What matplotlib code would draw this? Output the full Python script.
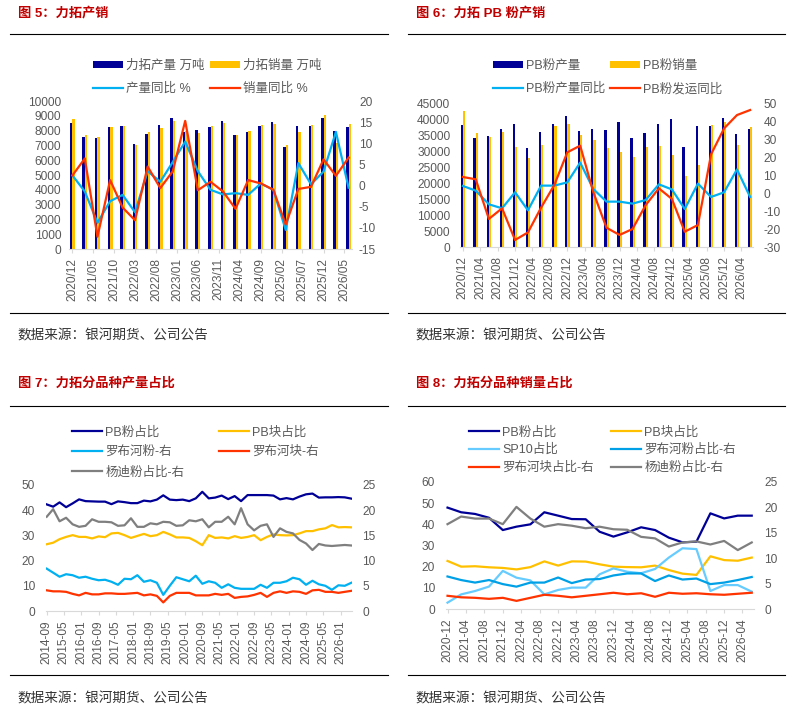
import matplotlib

matplotlib.use("Agg")

import matplotlib.dates as mdates
import matplotlib.pyplot as plt
import pandas as pd
from matplotlib.lines import Line2D

plt.rcParams["font.family"] = ["Liberation Sans", "Noto Sans CJK SC"]
plt.rcParams["axes.unicode_minus"] = False

W, H, DPI = 792, 714, 100

NAVY = "#000096"
GOLD = "#FFC000"
CYAN = "#00B0F0"
RED = "#FF3300"
GRAY = "#7F7F7F"
SKY = "#66CCFF"
TITLE_RED = "#C00000"
TICK_GRAY = "#595959"
AXIS_GRAY = "#D9D9D9"

SOURCE = "数据来源：银河期货、公司公告"

# ---- 图5 力拓产销 (quarterly) ----
dates5 = pd.date_range("2020-12-01", periods=23, freq="3MS")
ticks5 = pd.date_range("2020-12-01", periods=14, freq="5MS")
prod5 = [8500, 7550, 7500, 8250, 8330, 7100, 7800, 8400, 8850, 7900, 8050, 8270,
         8650, 7700, 7880, 8310, 8560, 6900, 8290, 8330, 8870, 8000, 8270]
sales5 = [8800, 7700, 7570, 8250, 8330, 7050, 7900, 8200, 8670, 7950, 7840, 8310,
          8510, 7700, 7970, 8380, 8450, 7000, 7900, 8360, 9050, 7150, 8450]
prod_yoy5 = [2.4, -1.4, -8.8, -3.7, -2.2, -6.3, 3.4, 0.9, 5.6, 10.4, 3.4, -1.0,
             -2.1, -1.8, -2.2, 0.5, -1.0, -10.5, 5.3, 0.3, 3.3, 12.7, -0.5]
sales_yoy5 = [2.4, 6.4, -12.1, 1.3, -5.2, -8.2, 4.5, -0.6, 3.4, 15.3, -1.1, 0.9,
              -1.4, -5.5, 1.3, 0.5, -1.0, -9.2, -0.8, -0.3, 6.2, 2.3, 6.6]

# ---- 图6 力拓 PB 粉产销 ----
dates6 = pd.date_range("2020-12-01", periods=23, freq="3MS")
ticks6 = pd.date_range("2020-12-01", periods=17, freq="4MS")
prod6 = [38100, 34200, 34600, 36900, 38400, 30800, 36000, 38400, 40900, 36300, 36900, 36600,
         39100, 34200, 35700, 38400, 40000, 31100, 37700, 37700, 40300, 35300, 36900]
sales6 = [42600, 35500, 34400, 36000, 31400, 27700, 31900, 37900, 38500, 35000, 33400, 30800,
          29600, 28200, 31100, 31600, 28800, 22200, 25600, 38100, 39200, 31900, 37500]
prod_yoy6 = [3.9, 1.3, -6.3, -8.5, 0.4, -9.6, 4.1, 4.1, 5.9, 16.9, 2.2, -4.8,
             -4.8, -5.9, -3.9, 4.8, 2.0, -8.9, 5.2, -2.2, 0.4, 13.1, -2.2]
ship_yoy6 = [8.9, 7.6, -14.4, -8.5, -26.1, -21.9, -8.1, 4.4, 22.6, 26.3, 0.4, -19.3,
             -23.3, -20.0, -6.7, 2.6, -3.3, -21.5, -17.8, 21.5, 35.9, 43.3, 46.1]

# ---- 图7 力拓分品种产量占比 ----
dates7 = pd.date_range("2014-09-01", periods=48, freq="3MS")
ticks7 = pd.date_range("2014-09-01", periods=18, freq="8MS")
pb_fines7 = [42.3, 41.4, 43.1, 41.2, 42.7, 44.3, 43.6, 43.5, 43.4, 43.4, 42.4, 43.5,
             43.2, 42.8, 42.8, 43.8, 43.5, 44.2, 45.9, 44.2, 44.0, 44.2, 43.6, 44.7,
             47.3, 44.7, 45.0, 45.8, 44.4, 45.6, 43.6, 46.0, 46.0, 46.0, 46.0, 45.8,
             44.3, 44.8, 44.3, 45.4, 46.3, 46.6, 45.0, 45.1, 45.1, 45.2, 45.1, 44.6]
pb_lump7 = [26.5, 27.1, 28.5, 29.4, 30.1, 29.4, 29.4, 28.8, 29.6, 29.3, 30.8, 31.0,
            30.1, 29.0, 29.8, 30.6, 29.7, 30.1, 31.4, 30.4, 29.2, 29.2, 29.0, 27.7,
            26.1, 30.1, 29.0, 29.2, 28.8, 29.7, 29.0, 29.4, 30.1, 28.1, 29.4, 30.4,
            30.1, 30.0, 30.1, 30.8, 31.7, 31.7, 32.4, 32.8, 34.1, 33.2, 33.3, 33.2]
robe_fines7 = [8.4, 7.6, 6.8, 7.3, 7.1, 6.6, 6.8, 6.4, 6.1, 6.2, 5.8, 5.2,
               6.4, 6.3, 7.1, 5.8, 6.1, 5.6, 3.2, 5.0, 6.7, 6.3, 5.9, 7.0,
               5.4, 5.9, 5.6, 4.6, 5.3, 4.6, 4.4, 4.4, 4.4, 5.2, 4.6, 5.6,
               5.6, 5.9, 6.6, 6.3, 5.2, 6.0, 5.3, 5.0, 4.2, 5.1, 5.0, 5.6]
robe_lump7 = [4.1, 3.9, 3.9, 3.8, 3.4, 3.1, 3.6, 3.3, 3.3, 3.5, 3.5, 3.4,
              3.4, 3.5, 3.6, 3.1, 3.3, 3.0, 1.7, 3.0, 3.6, 3.6, 3.6, 3.1,
              3.1, 3.1, 3.4, 3.2, 3.4, 2.6, 2.8, 2.9, 3.2, 3.6, 2.8, 3.6,
              3.9, 3.6, 3.9, 3.8, 3.4, 4.1, 4.2, 3.8, 3.8, 3.6, 3.8, 4.0]
yandi7 = [18.7, 20.2, 17.8, 18.5, 17.2, 16.7, 16.9, 18.2, 17.7, 17.7, 17.6, 16.9,
          17.0, 18.4, 16.7, 16.7, 17.4, 17.2, 17.7, 17.6, 16.9, 17.0, 18.0, 17.8,
          18.2, 16.6, 17.7, 17.7, 18.7, 17.2, 20.4, 17.2, 16.0, 16.9, 17.2, 14.7,
          16.4, 15.7, 15.4, 14.1, 13.4, 12.1, 13.3, 13.0, 12.9, 13.0, 13.1, 13.0]

# ---- 图8 力拓分品种销量占比 ----
dates8 = pd.date_range("2020-12-01", periods=23, freq="3MS")
ticks8 = pd.date_range("2020-12-01", periods=17, freq="4MS")
pb_fines8 = [47.9, 45.7, 44.9, 43.1, 37.3, 38.9, 40.0, 45.7, 44.1, 42.5, 42.4, 36.5,
             34.2, 36.2, 38.6, 37.3, 33.7, 31.5, 31.8, 45.2, 42.8, 44.1, 44.1]
pb_lump8 = [22.7, 20.0, 20.2, 19.7, 19.4, 18.7, 19.8, 22.5, 20.5, 22.5, 22.4, 21.1,
            20.0, 19.8, 19.7, 20.5, 18.4, 16.7, 16.1, 24.9, 23.1, 22.8, 24.3]
sp10_8 = [3.0, 6.9, 8.5, 10.6, 18.0, 14.8, 13.5, 6.9, 9.0, 10.1, 10.1, 16.4,
          19.2, 17.6, 16.9, 18.9, 24.3, 28.7, 28.3, 8.5, 11.3, 11.3, 8.2]
robe_fines8 = [6.4, 5.7, 5.2, 5.7, 4.9, 4.4, 5.2, 5.2, 6.2, 5.1, 5.8, 5.9,
               6.6, 7.0, 7.0, 5.5, 6.6, 5.8, 6.0, 4.9, 5.2, 5.7, 6.3]
robe_lump8 = [2.6, 2.3, 2.2, 2.0, 2.2, 1.6, 2.2, 2.8, 2.6, 2.3, 2.6, 2.9,
              3.2, 2.9, 3.1, 2.4, 3.2, 3.0, 3.1, 2.9, 2.8, 3.0, 3.2]
yandi8 = [16.7, 18.2, 17.8, 17.8, 16.7, 20.1, 17.8, 16.2, 16.7, 16.4, 15.9, 16.2,
          15.7, 15.6, 14.2, 13.9, 12.3, 13.1, 13.3, 12.7, 13.4, 11.6, 13.1]


def px_axes(fig, x0, y0, x1, y1):
    """Add axes from a pixel box (top-left origin)."""
    return fig.add_axes([x0 / W, 1 - y1 / H, (x1 - x0) / W, (y1 - y0) / H])


def draw_frame(fig, x0, x1, title, y_title, y_rule_top, y_rule_bottom, y_source):
    fig.text((x0 + 8) / W, 1 - y_title / H, title, color=TITLE_RED,
             fontsize=9.5, fontweight="bold", va="center")
    for y in (y_rule_top, y_rule_bottom):
        fig.add_artist(Line2D([x0 / W, x1 / W], [1 - y / H, 1 - y / H],
                              color="black", lw=0.8))
    fig.text((x0 + 7) / W, 1 - y_source / H, SOURCE, color="#333333",
             fontsize=9.8, va="center")


def style_axes(ax, ax2, date_fmt, ticks, xlim, left_pad, right_pad):
    for side in ("top", "left", "right"):
        ax.spines[side].set_visible(False)
    ax.spines["bottom"].set_color(AXIS_GRAY)
    for spine in ax2.spines.values():
        spine.set_visible(False)
    ax.tick_params(axis="y", length=0, pad=left_pad, labelsize=8.6, labelcolor=TICK_GRAY)
    ax2.tick_params(axis="y", length=0, pad=right_pad, labelsize=8.6, labelcolor=TICK_GRAY)
    ax.set_xticks(ticks)
    ax.xaxis.set_major_formatter(mdates.DateFormatter(date_fmt))
    ax.tick_params(axis="x", length=3, color=AXIS_GRAY, pad=3.5, labelsize=8.6,
                   labelcolor=TICK_GRAY, labelrotation=90)
    ax.set_xlim(*xlim)


def add_legend(fig, handles, labels, x, y, colspace, rowspace):
    fig.legend(handles, labels, loc="upper left", bbox_to_anchor=(x / W, 1 - y / H),
               ncol=2, frameon=False, fontsize=9, labelcolor=TICK_GRAY,
               handlelength=2.4, handleheight=0.5, handletextpad=0.25,
               columnspacing=colspace, labelspacing=rowspace,
               borderpad=0, borderaxespad=0)


fig = plt.figure(figsize=(W / DPI, H / DPI), dpi=DPI)
day = pd.Timedelta(days=1)

# ---------- 图5 ----------
draw_frame(fig, 10, 388, "图 5：力拓产销", 13, 34, 313, 335)
ax = px_axes(fig, 69, 101, 352, 249)
b1 = ax.bar(dates5 - 9 * day, prod5, width=18, color=NAVY)
b2 = ax.bar(dates5 + 9 * day, sales5, width=18, color=GOLD)
ax.set_ylim(0, 10000)
ax.set_yticks(range(0, 10001, 1000))
ax2 = ax.twinx()
l1, = ax2.plot(dates5, prod_yoy5, color=CYAN, lw=1.6)
l2, = ax2.plot(dates5, sales_yoy5, color=RED, lw=1.6)
ax2.set_ylim(-15, 20)
ax2.set_yticks(range(-15, 21, 5))
style_axes(ax, ax2, "%Y/%m", ticks5,
           (dates5[0] - 25 * day, dates5[-1] + 25 * day), 5.5, 5.0)
add_legend(fig, [b1, l1, b2, l2],
           ["力拓产量 万吨", "产量同比 %", "力拓销量 万吨", "销量同比 %"],
           93, 60, 0.4, 0.85)

# ---------- 图6 ----------
draw_frame(fig, 408, 785, "图 6：力拓 PB 粉产销", 13, 34, 313, 335)
ax = px_axes(fig, 460, 103, 753, 247)
b1 = ax.bar(dates6 - 8 * day, prod6, width=16, color=NAVY)
b2 = ax.bar(dates6 + 8 * day, sales6, width=16, color=GOLD)
ax.set_ylim(0, 45000)
ax.set_yticks(range(0, 45001, 5000))
ax2 = ax.twinx()
l1, = ax2.plot(dates6, prod_yoy6, color=CYAN, lw=1.6)
l2, = ax2.plot(dates6, ship_yoy6, color=RED, lw=1.6)
ax2.set_ylim(-30, 50)
ax2.set_yticks(range(-30, 51, 10))
style_axes(ax, ax2, "%Y/%m", ticks6,
           (dates6[0] - 20 * day, dates6[-1] + 20 * day), 7.0, 7.5)
add_legend(fig, [b1, l1, b2, l2],
           ["PB粉产量", "PB粉产量同比", "PB粉销量", "PB粉发运同比"],
           493, 60, 0.4, 0.85)

# ---------- 图7 ----------
draw_frame(fig, 10, 388, "图 7：力拓分品种产量占比", 383, 406, 675, 698)
ax = px_axes(fig, 46, 485, 352, 611)
p1, = ax.plot(dates7, pb_fines7, color=NAVY, lw=1.6)
p2, = ax.plot(dates7, pb_lump7, color=GOLD, lw=1.6)
ax.set_ylim(0, 50)
ax.set_yticks(range(0, 51, 10))
ax2 = ax.twinx()
p3, = ax2.plot(dates7, robe_fines7, color=CYAN, lw=1.6)
p4, = ax2.plot(dates7, robe_lump7, color=RED, lw=1.6)
p5, = ax2.plot(dates7, yandi7, color=GRAY, lw=1.6)
ax2.set_ylim(0, 25)
ax2.set_yticks(range(0, 26, 5))
style_axes(ax, ax2, "%Y-%m", ticks7,
           (dates7[0] - 10 * day, dates7[-1] + 10 * day), 8.0, 7.5)
add_legend(fig, [p1, p3, p5, p2, p4],
           ["PB粉占比", "罗布河粉-右", "杨迪粉占比-右", "PB块占比", "罗布河块-右"],
           72, 426, 2.8, 0.62)

# ---------- 图8 ----------
draw_frame(fig, 408, 785, "图 8：力拓分品种销量占比", 383, 406, 675, 698)
ax = px_axes(fig, 446, 482, 754, 609)
q1, = ax.plot(dates8, pb_fines8, color=NAVY, lw=1.6)
q2, = ax.plot(dates8, pb_lump8, color=GOLD, lw=1.6)
q3, = ax.plot(dates8, sp10_8, color=SKY, lw=1.6)
ax.set_ylim(0, 60)
ax.set_yticks(range(0, 61, 10))
ax2 = ax.twinx()
q4, = ax2.plot(dates8, robe_fines8, color="#00A0E6", lw=1.6)
q5, = ax2.plot(dates8, robe_lump8, color=RED, lw=1.6)
q6, = ax2.plot(dates8, yandi8, color=GRAY, lw=1.6)
ax2.set_ylim(0, 25)
ax2.set_yticks(range(0, 26, 5))
style_axes(ax, ax2, "%Y-%m", ticks8,
           (dates8[0] - 10 * day, dates8[-1] + 15 * day), 8.0, 7.5)
add_legend(fig, [q1, q3, q5, q2, q4, q6],
           ["PB粉占比", "SP10占比", "罗布河块占比-右", "PB块占比", "罗布河粉占比-右", "杨迪粉占比-右"],
           469, 426, 1.4, 0.45)

fig.savefig("out.png", dpi=DPI)
